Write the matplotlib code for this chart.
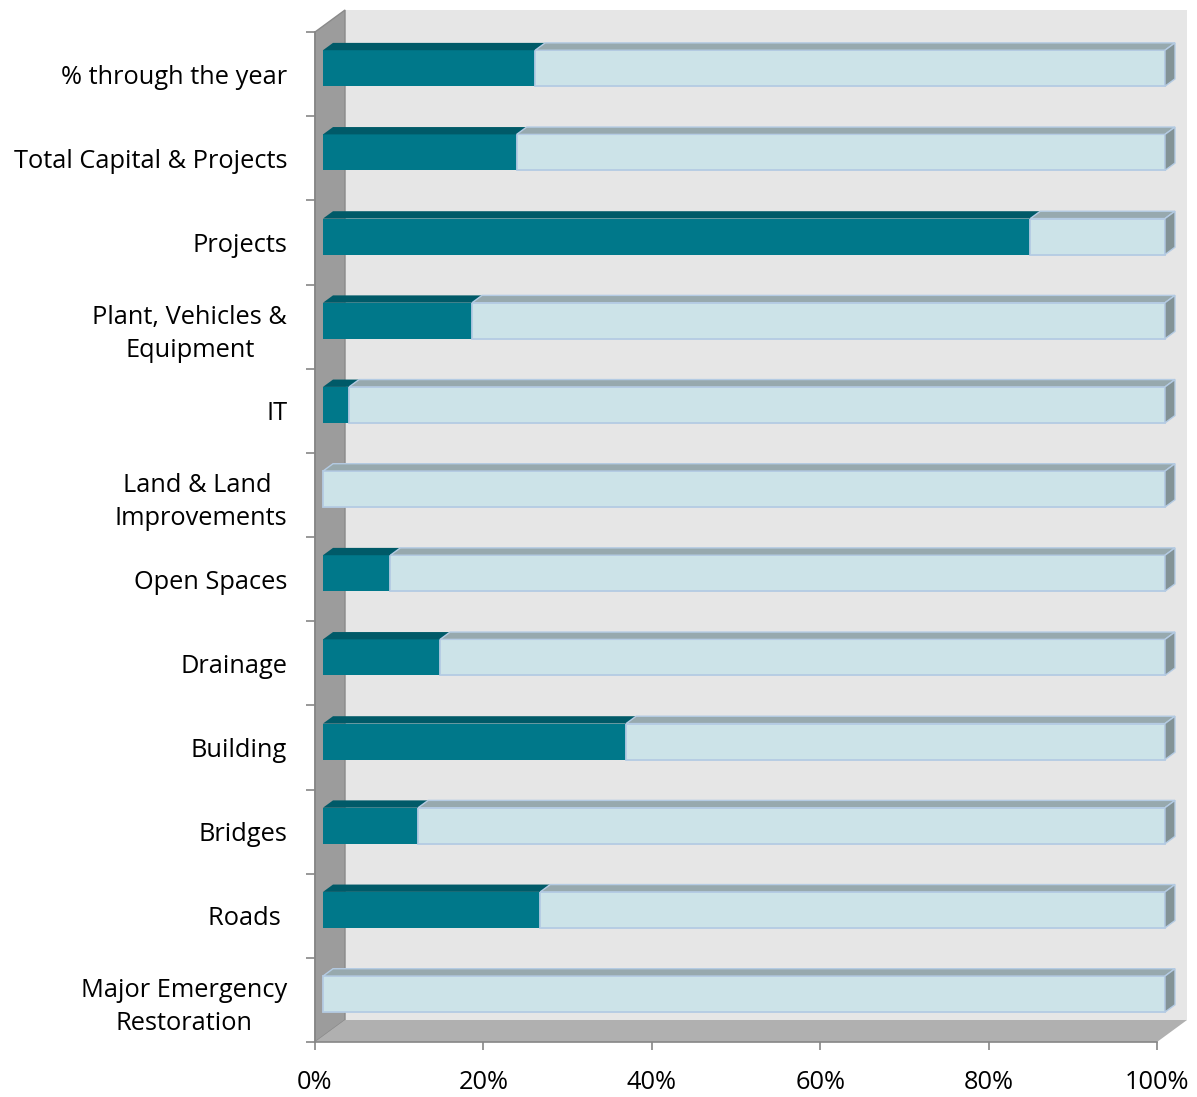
import matplotlib
matplotlib.use("Agg")
import matplotlib.pyplot as plt
from matplotlib.patches import Polygon
import numpy as np

categories = ["% through the year", "Total Capital & Projects", "Projects",
              "Plant, Vehicles &\nEquipment", "IT", "Land & Land \nImprovements",
              "Open Spaces", "Drainage", "Building", "Bridges", "Roads ",
              "Major Emergency\nRestoration"]
spent = [25.2, 23.0, 84.0, 17.7, 3.1, 0.0, 8.0, 13.9, 36.0, 11.3, 25.8, 0.0]
remaining = [100 - v for v in spent]
xticks = [0, 20, 40, 60, 80, 100]
xticklabels = ["0%", "20%", "40%", "60%", "80%", "100%"]

plt.rcParams['font.family'] = ['Open Sans', 'DejaVu Sans']

W, H = 1197, 1097
fig = plt.figure(figsize=(W / 100, H / 100), dpi=100)
L, R, B, T = 315, 1157, 1042, 32
ax = fig.add_axes([L / W, 1 - B / H, (R - L) / W, (B - T) / H])
n = len(categories)
ax.set_xlim(0, 100)
ax.set_ylim(n - 0.5, -0.5)

# oblique depth in data units
pxx = (R - L) / 100.0
pxy = (B - T) / n
DX = 30 / pxx
DY = -22 / pxy
f0, f1 = 8 / 30, 18 / 30
h = 36 / pxy

# walls
ax.add_patch(Polygon([(DX, -0.5 + DY), (100 + DX, -0.5 + DY), (100 + DX, n - 0.5 + DY), (DX, n - 0.5 + DY)],
                     closed=True, facecolor="#e6e6e6", edgecolor="none", clip_on=False, zorder=0))
ax.add_patch(Polygon([(0, -0.5), (DX, -0.5 + DY), (DX, n - 0.5 + DY), (0, n - 0.5)],
                     closed=True, facecolor="#9c9c9c", edgecolor="#8a8a8a", lw=1, clip_on=False, zorder=1))
ax.add_patch(Polygon([(0, n - 0.5), (DX, n - 0.5 + DY), (100 + DX, n - 0.5 + DY), (100, n - 0.5)],
                     closed=True, facecolor="#b0b0b0", edgecolor="none", clip_on=False, zorder=1))

y = np.arange(n)
yc = y + f0 * DY
teal, teal_top = "#00788a", "#005a68"
light, light_top, light_end = "#cce3e8", "#97a9ae", "#839396"
edge = "#b4cbe3"

b1 = ax.barh(yc, spent, left=f0 * DX, height=h, color=teal, edgecolor="none", zorder=3)
b2 = ax.barh(yc, remaining, left=np.array(spent) + f0 * DX, height=h, color=light,
             edgecolor=edge, linewidth=1.3, zorder=3)
for p in list(b1) + list(b2):
    p.set_clip_on(False)

ddx = (f1 - f0) * DX
ddy = (f1 - f0) * DY
for i in range(n):
    yt = yc[i] - h / 2
    yb = yc[i] + h / 2
    segs = [(0, spent[i], teal_top, "none"), (spent[i], 100, light_top, edge)]
    for a, b, col, ec in segs:
        if b - a <= 0:
            continue
        ax.add_patch(Polygon([(a + f0 * DX, yt), (b + f0 * DX, yt), (b + f0 * DX + ddx, yt + ddy),
                              (a + f0 * DX + ddx, yt + ddy)], closed=True, facecolor=col,
                             edgecolor=ec, lw=1.0, clip_on=False, zorder=4))
    ax.add_patch(Polygon([(100 + f0 * DX, yt), (100 + f0 * DX + ddx, yt + ddy), (100 + f0 * DX + ddx, yb + ddy),
                          (100 + f0 * DX, yb)], closed=True, facecolor=light_end,
                         edgecolor=edge, lw=1.0, clip_on=False, zorder=4))

# axes styling
for s in ["top", "right"]:
    ax.spines[s].set_visible(False)
for s in ["left", "bottom"]:
    ax.spines[s].set_color("#868686")
    ax.spines[s].set_linewidth(1.2)
    ax.spines[s].set_zorder(2)
ax.set_facecolor("none")

ax.set_xticks(xticks)
ax.set_xticklabels(xticklabels, fontsize=18.3)
ax.tick_params(axis="x", length=6, width=1.2, color="#868686", pad=14, labelcolor="#000000")

ax.set_yticks(y)
ax.set_yticklabels(categories, fontsize=18.3, multialignment="center", linespacing=1.42)
ax.set_yticks(np.arange(n + 1) - 0.5, minor=True)
ax.tick_params(axis="y", which="major", length=0, pad=20)
ax.tick_params(axis="y", which="minor", length=6.5, width=1.2, color="#868686")

fig.savefig("out.png", dpi=100, facecolor="white")
